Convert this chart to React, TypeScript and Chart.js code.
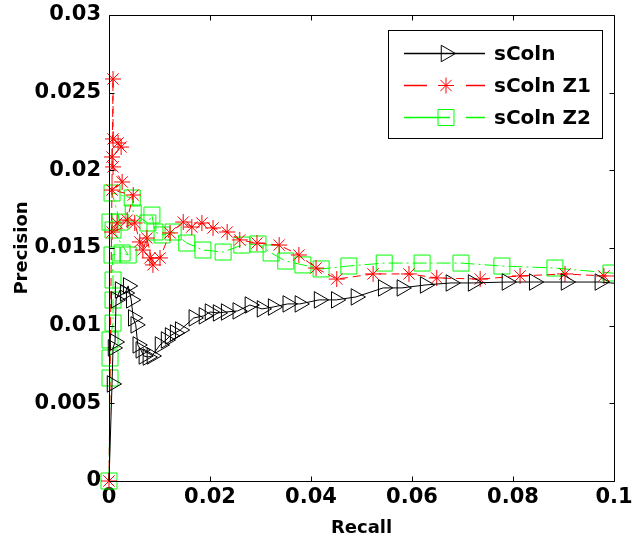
import { useEffect, useRef } from "react";
import { Chart, registerables } from "chart.js";

Chart.register(...registerables);

const xTicks = [0, 0.02, 0.04, 0.06, 0.08, 0.1];
const xTickLabels = ["0", "0.02", "0.04", "0.06", "0.08", "0.1"];
const yTicks = [0, 0.005, 0.01, 0.015, 0.02, 0.025, 0.03];
const yTickLabels = ["0", "0.005", "0.01", "0.015", "0.02", "0.025", "0.03"];

const seriesNames = ["sColn", "sColn Z1", "sColn Z2"];
const seriesColors = ["#000000", "#ff0000", "#00ff00"];
const seriesMarkers = ["triangle", "star", "rect"];

const scolnRecall = [
  0, 0.0006, 0.0008, 0.0012, 0.0014, 0.0022, 0.0032, 0.0038, 0.0044, 0.0048, 0.0053,
  0.0057, 0.0063, 0.0069, 0.0077, 0.0085, 0.0101, 0.0113, 0.0121, 0.0131, 0.0141,
  0.0168, 0.0188, 0.02, 0.0216, 0.0232, 0.0255, 0.0279, 0.0303, 0.0325, 0.0354,
  0.0378, 0.0416, 0.045, 0.0489, 0.0543, 0.058, 0.0626, 0.0677, 0.0721, 0.0788,
  0.0842, 0.0905, 0.0972, 0.102,
];
const scolnPrecision = [
  0, 0.00625, 0.00857, 0.00895, 0.01166, 0.0123, 0.0121, 0.01256, 0.01166, 0.0105, 0.01005,
  0.00876, 0.00844, 0.00805, 0.00798, 0.00805, 0.00876, 0.00908, 0.00934, 0.00953, 0.00972,
  0.0105, 0.01063, 0.01088, 0.01082, 0.01088, 0.01095, 0.01133, 0.01108, 0.0112, 0.0114,
  0.0114, 0.01166, 0.01166, 0.01185, 0.01243, 0.01243, 0.01262, 0.01275, 0.01275, 0.01281,
  0.01281, 0.01281, 0.01281, 0.01268,
];

const z1Recall = [
  0, 0.0008, 0.0008, 0.0018, 0.0024, 0.0006, 0.0008, 0.0026, 0.0006, 0.0048,
  0.0036, 0.0016, 0.0006, 0.0051, 0.0061, 0.0067, 0.0075, 0.0087, 0.0081, 0.0101,
  0.0121, 0.0147, 0.0164, 0.0184, 0.0206, 0.0234, 0.0259, 0.0293, 0.0337, 0.0376,
  0.041, 0.0451, 0.0523, 0.0594, 0.0649, 0.0735, 0.0814, 0.0903, 0.098, 0.102,
];
const z1Precision = [
  0, 0.02588, 0.02202, 0.02176, 0.0215, 0.02086, 0.02022, 0.01925, 0.01873, 0.01841,
  0.0168, 0.01661, 0.01603, 0.01661, 0.01539, 0.01487, 0.01564, 0.01391, 0.01436, 0.01436,
  0.01597, 0.01667, 0.01635, 0.01661, 0.01629, 0.01603, 0.01552, 0.01532, 0.01519, 0.01455,
  0.01371, 0.013, 0.01333, 0.01333, 0.01307, 0.013, 0.0132, 0.01333, 0.0132, 0.0132,
];

const z2Recall = [
  0, 0.0002, 0.0002, 0.0002, 0.0008, 0.0008, 0.0008, 0.0006, 0.0026, 0.0038,
  0.0008, 0.0002, 0.0022, 0.0006, 0.0046, 0.0048, 0.0077, 0.0085, 0.0091, 0.0105,
  0.0127, 0.0154, 0.0186, 0.0226, 0.0263, 0.0295, 0.0321, 0.035, 0.0384, 0.042,
  0.0475, 0.0545, 0.062, 0.0697, 0.0778, 0.0883, 0.0994, 0.103,
];
const z2Precision = [
  0, 0.00663, 0.00792, 0.00908, 0.01017, 0.01165, 0.01294, 0.01455, 0.01468, 0.01455,
  0.01616, 0.01667, 0.01667, 0.01854, 0.01822, 0.01725, 0.01661, 0.01712, 0.01603, 0.01584,
  0.01603, 0.01532, 0.01487, 0.01474, 0.01519, 0.01526, 0.01468, 0.01416, 0.01391, 0.01365,
  0.01384, 0.01403, 0.01403, 0.01403, 0.01384, 0.01371, 0.01339, 0.0133,
];

const tickFont = { family: "'DejaVu Sans', sans-serif", size: 21, weight: "bold" as const };
const titleFont = { family: "'DejaVu Sans', sans-serif", size: 18, weight: "bold" as const };
const legendFontCss = "bold 20px 'DejaVu Sans', sans-serif";
const legendSegments = [
  [[0, 81]],
  [[0, 23], [62, 81]],
  [[0, 46], [62, 81]],
];
const legendMarkerSizes = [9.5, 8, 11.3];

function toPoints(xs: number[], ys: number[]) {
  return xs.map((x, i) => ({ x, y: ys[i] }));
}

function drawMarker(ctx: CanvasRenderingContext2D, style: string, x: number, y: number, r: number) {
  ctx.beginPath();
  if (style === "triangle") {
    ctx.moveTo(x + r, y);
    ctx.lineTo(x - r / 2, y - (r * Math.sqrt(3)) / 2);
    ctx.lineTo(x - r / 2, y + (r * Math.sqrt(3)) / 2);
    ctx.closePath();
  } else if (style === "star") {
    for (let k = 0; k < 4; k++) {
      const a = (k * Math.PI) / 4;
      ctx.moveTo(x - Math.cos(a) * r, y - Math.sin(a) * r);
      ctx.lineTo(x + Math.cos(a) * r, y + Math.sin(a) * r);
    }
  } else {
    const s = Math.SQRT1_2 * r;
    ctx.rect(x - s, y - s, 2 * s, 2 * s);
  }
  ctx.stroke();
}

const framePlugin = {
  id: "matlabFrame",
  afterDatasetsDraw(chart: any) {
    const { ctx, chartArea: a, scales } = chart;
    ctx.save();
    ctx.strokeStyle = "#000";
    ctx.lineWidth = 1;
    ctx.setLineDash([]);
    const L = Math.round(a.left) + 0.5;
    const R = Math.round(a.right) + 0.5;
    const T = Math.round(a.top) + 0.5;
    const B = Math.round(a.bottom) + 0.5;
    ctx.beginPath();
    ctx.rect(L, T, R - L, B - T);
    const len = 5;
    xTicks.forEach((v) => {
      const x = Math.round(scales.x.getPixelForValue(v)) + 0.5;
      ctx.moveTo(x, B);
      ctx.lineTo(x, B - len);
      ctx.moveTo(x, T);
      ctx.lineTo(x, T + len);
    });
    yTicks.forEach((v) => {
      const y = Math.round(scales.y.getPixelForValue(v)) + 0.5;
      ctx.moveTo(L, y);
      ctx.lineTo(L + len, y);
      ctx.moveTo(R, y);
      ctx.lineTo(R - len, y);
    });
    ctx.stroke();
    ctx.restore();
  },
  afterDraw(chart: any) {
    const { ctx, chartArea: a } = chart;
    const boxRight = a.right - 12;
    const boxLeft = boxRight - 214;
    const boxTop = a.top + 15;
    const boxBottom = boxTop + 108;
    ctx.save();
    ctx.setLineDash([]);
    ctx.globalAlpha = 1;
    ctx.fillStyle = "#fff";
    ctx.fillRect(boxLeft, boxTop, boxRight - boxLeft, boxBottom - boxTop);
    ctx.strokeStyle = "#000";
    ctx.lineWidth = 1;
    ctx.strokeRect(Math.round(boxLeft) + 0.5, Math.round(boxTop) + 0.5, Math.round(boxRight - boxLeft), Math.round(boxBottom - boxTop));
    seriesNames.forEach((name, i) => {
      const y = Math.round(boxTop + 23 + i * 32) + 0.5;
      const x0 = Math.round(boxLeft + 16);
      const mx = boxLeft + 58;
      ctx.strokeStyle = seriesColors[i];
      ctx.lineWidth = 1.6;
      ctx.beginPath();
      legendSegments[i].forEach(([s, e]) => {
        ctx.moveTo(x0 + s, y);
        ctx.lineTo(x0 + e, y);
      });
      ctx.stroke();
      ctx.lineWidth = 1;
      drawMarker(ctx, seriesMarkers[i], mx, y, legendMarkerSizes[i]);
      ctx.fillStyle = "#000";
      ctx.font = legendFontCss;
      ctx.textBaseline = "middle";
      ctx.textAlign = "left";
      ctx.fillText(name, boxLeft + 106, y + 1);
    });
    ctx.restore();
  },
};

export default function App() {
  const canvasRef = useRef<HTMLCanvasElement | null>(null);

  useEffect(() => {
    if (!canvasRef.current) return;
    const clip = { left: 15, top: 0, right: 0, bottom: 15 };
    const chart = new Chart(canvasRef.current, {
      type: "scatter",
      data: {
        datasets: [
          {
            label: seriesNames[0],
            data: toPoints(scolnRecall, scolnPrecision),
            showLine: true,
            borderColor: seriesColors[0],
            borderWidth: 1,
            pointStyle: seriesMarkers[0],
            pointRotation: 90,
            pointRadius: (c: any) => (c.dataIndex === 0 ? 0 : 9.5),
            pointBorderColor: seriesColors[0],
            pointBackgroundColor: "rgba(0,0,0,0)",
            pointBorderWidth: 1,
            tension: 0,
            clip,
          } as any,
          {
            label: seriesNames[1],
            data: toPoints(z1Recall, z1Precision),
            showLine: true,
            borderColor: seriesColors[1],
            borderWidth: 1,
            borderDash: [8, 5],
            pointStyle: seriesMarkers[1],
            pointRadius: 8,
            pointBorderColor: seriesColors[1],
            pointBackgroundColor: "rgba(0,0,0,0)",
            pointBorderWidth: 1,
            tension: 0,
            clip,
          } as any,
          {
            label: seriesNames[2],
            data: toPoints(z2Recall, z2Precision),
            showLine: true,
            borderColor: seriesColors[2],
            borderWidth: 1,
            borderDash: [14, 4, 2, 4],
            pointStyle: seriesMarkers[2],
            pointRadius: 11.3,
            pointBorderColor: seriesColors[2],
            pointBackgroundColor: "rgba(0,0,0,0)",
            pointBorderWidth: 1,
            tension: 0,
            clip,
          } as any,
        ],
      },
      options: {
        animation: false,
        responsive: true,
        maintainAspectRatio: false,
        events: [],
        layout: { padding: { left: 0, top: 15, right: 21, bottom: 0 } },
        plugins: {
          legend: { display: false },
          tooltip: { enabled: false },
        },
        scales: {
          x: {
            type: "linear",
            min: 0,
            max: 0.1,
            afterBuildTicks: (s: any) => {
              s.ticks = xTicks.map((v) => ({ value: v }));
            },
            afterFit: (s: any) => {
              s.height = 61;
              s.paddingLeft = 0;
              s.paddingRight = 0;
              s.paddingTop = 0;
              s.paddingBottom = 0;
            },
            ticks: {
              callback: (_v: any, i: number) => xTickLabels[i],
              font: tickFont,
              color: "#000",
              padding: 4,
              maxRotation: 0,
              autoSkip: false,
            },
            grid: { display: false, drawTicks: false },
            border: { display: false },
            title: {
              display: true,
              text: "Recall",
              font: titleFont,
              color: "#000",
              padding: { top: 0, bottom: 3 },
            },
          },
          y: {
            type: "linear",
            min: 0,
            max: 0.03,
            afterBuildTicks: (s: any) => {
              s.ticks = yTicks.map((v) => ({ value: v }));
            },
            afterFit: (s: any) => {
              s.width = 109;
              s.paddingLeft = 0;
              s.paddingRight = 0;
              s.paddingTop = 0;
              s.paddingBottom = 0;
            },
            ticks: {
              callback: (_v: any, i: number) => yTickLabels[i],
              font: tickFont,
              color: "#000",
              padding: 8,
              autoSkip: false,
            },
            grid: { display: false, drawTicks: false },
            border: { display: false },
            title: {
              display: true,
              text: "Precision",
              font: titleFont,
              color: "#000",
              padding: { top: 12, bottom: 0 },
            },
          },
        },
      },
      plugins: [framePlugin],
    });
    return () => chart.destroy();
  }, []);

  return (
    <div style={{ position: "fixed", left: 0, top: 0, width: 635, height: 542, background: "#fff" }}>
      <canvas ref={canvasRef} />
    </div>
  );
}
